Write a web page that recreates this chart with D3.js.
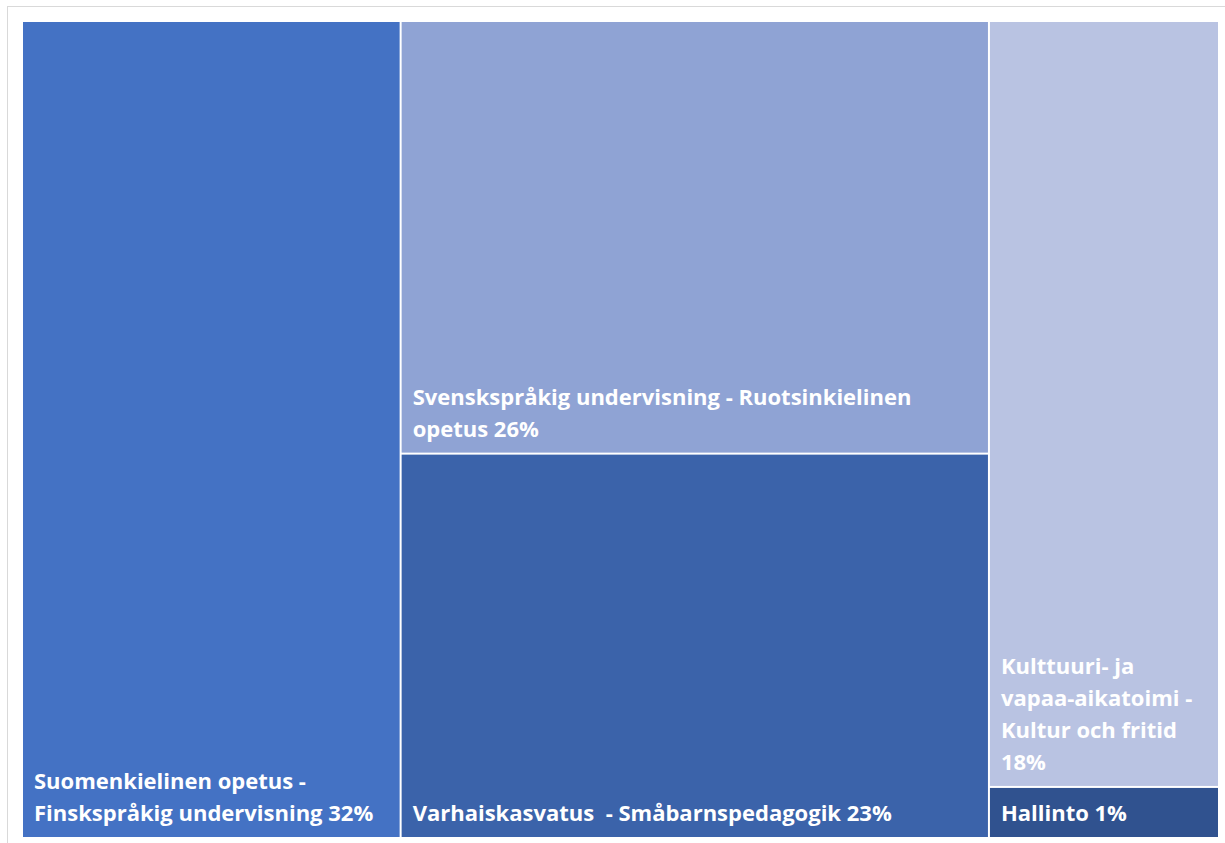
<!DOCTYPE html>
<html>
<head>
<meta charset="utf-8">
<script src="https://cdn.jsdelivr.net/npm/d3@7"></script>
<style>
  body { margin: 0; background: #fff; }
  svg { display: block; }
</style>
</head>
<body>
<svg id="chart" width="1225" height="843"></svg>
<script>
// data
var categories = [
	"Suomenkielinen opetus - Finskspråkig undervisning",
	"Svenskspråkig undervisning - Ruotsinkielinen opetus",
	"Varhaiskasvatus  - Småbarnspedagogik",
	"Kulttuuri- ja vapaa-aikatoimi - Kultur och fritid",
	"Hallinto"
];
var values = [31.6, 26.0, 23.1, 18.0, 1.2];
var groups = ["a", "b", "b", "c", "c"];
var colors = ["#4472c4", "#8fa3d4", "#3b63aa", "#b9c3e2", "#30528f"];

var svg = d3.select("#chart");

// chart frame
svg.append("rect")
	.attr("x", 7.5).attr("y", 6.5)
	.attr("width", 1240).attr("height", 860)
	.attr("fill", "#fff")
	.attr("stroke", "#d9d9d9");

var plotwidth = 1195, plotheight = 815;
var plotarea = svg.append("g").attr("transform", "translate(23,22)");

var total = d3.sum(values);
var leaves = categories.map(function(c, i) {
	return { name: c, value: values[i], color: colors[i], group: groups[i],
		pct: Math.round(values[i] / total * 100) };
});
var grouped = d3.groups(leaves, function(d) { return d.group; });
var rootData = { children: grouped.map(function(g) { return { children: g[1] }; }) };

var root = d3.hierarchy(rootData)
	.sum(function(d) { return d.children ? 0 : d.value; });

d3.treemap()
	.tile(d3.treemapSliceDice)
	.size([plotwidth, plotheight])
	.paddingInner(2)
	.round(false)(root);

var cells = plotarea.selectAll(".cell")
	.data(root.leaves())
	.enter()
	.append("g")
	.attr("class", "cell");

cells.append("rect")
	.attr("x", function(d) { return d.x0; })
	.attr("y", function(d) { return d.y0; })
	.attr("width", function(d) { return d.x1 - d.x0; })
	.attr("height", function(d) { return d.y1 - d.y0; })
	.attr("fill", function(d) { return d.data.color; });

var font = "'Open Sans', sans-serif";
var fontSize = 22, lineHeight = 32, padX = 11, padBottom = 16;

cells.each(function(d) {
	var g = d3.select(this);
	var maxW = (d.x1 - d.x0) - 2 * padX;
	var words = (d.data.name + " " + d.data.pct + "%").split(" ");
	var probe = g.append("text")
		.attr("font-family", font)
		.attr("font-weight", "bold")
		.attr("font-size", fontSize)
		.attr("xml:space", "preserve");
	var lines = [], line = "";
	words.forEach(function(w) {
		var test = line === "" ? w : line + " " + w;
		probe.text(test);
		if (probe.node().getComputedTextLength() > maxW && line !== "") {
			lines.push(line);
			line = w;
		} else {
			line = test;
		}
	});
	lines.push(line);
	probe.remove();

	var text = g.append("text")
		.attr("font-family", font)
		.attr("font-weight", "bold")
		.attr("font-size", fontSize)
		.attr("fill", "#fff")
		.attr("xml:space", "preserve");
	var n = lines.length;
	lines.forEach(function(l, i) {
		text.append("tspan")
			.attr("x", d.x0 + padX)
			.attr("y", d.y1 - padBottom - (n - 1 - i) * lineHeight)
			.text(l);
	});
});
</script>
</body>
</html>
